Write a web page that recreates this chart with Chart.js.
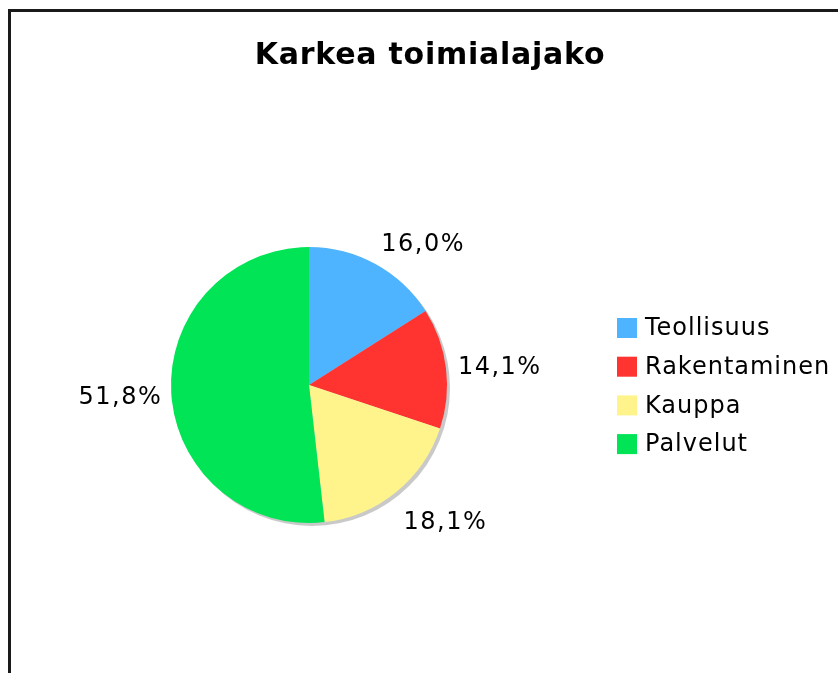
<!DOCTYPE html>
<html>
<head>
<meta charset="utf-8">
<script src="https://cdn.jsdelivr.net/npm/chart.js@4/dist/chart.umd.min.js"></script>
<style>
  html, body { margin: 0; padding: 0; background: #fff; overflow: hidden; }
  #wrap { width: 838px; height: 673px; position: relative; }
</style>
</head>
<body>
<div id="wrap"><canvas id="pieChart" width="838" height="673"></canvas></div>
<script>
const title = 'Karkea toimialajako';
const categories = ['Teollisuus', 'Rakentaminen', 'Kauppa', 'Palvelut'];
const shares = [16.0, 14.1, 18.1, 51.8];
const colors = ['#4fb4ff', '#ff3330', '#fff48c', '#00e455'];

const FONT = "'DejaVu Sans', Verdana, sans-serif";

function fmt(v) {
    return v.toFixed(1).replace('.', ',') + '%';
}

// frame, title, shadow, labels and legend
const decorations = {
    id: 'decorations',
    beforeDraw(chart) {
        const ctx = chart.ctx;
        ctx.save();
        ctx.fillStyle = '#fff';
        ctx.fillRect(0, 0, chart.width, chart.height);
        ctx.strokeStyle = '#1a1a1a';
        ctx.lineWidth = 3;
        ctx.strokeRect(9.5, 10.5, chart.width + 20, chart.height + 20);

        ctx.fillStyle = '#000';
        ctx.font = 'bold 30px ' + FONT;
        ctx.letterSpacing = '0.75px';
        ctx.textAlign = 'center';
        ctx.textBaseline = 'middle';
        ctx.fillText(title, 430, 56);
        ctx.restore();
    },
    beforeDatasetsDraw(chart) {
        const arc = chart.getDatasetMeta(0).data[0];
        if (!arc) return;
        const ctx = chart.ctx;
        ctx.save();
        ctx.fillStyle = '#c9c9c9';
        ctx.beginPath();
        ctx.arc(arc.x + 3, arc.y + 3, arc.outerRadius, 0, Math.PI * 2);
        ctx.fill();
        ctx.restore();
    },
    afterDatasetsDraw(chart) {
        const ctx = chart.ctx;
        const meta = chart.getDatasetMeta(0);
        ctx.save();
        ctx.fillStyle = '#000';
        ctx.font = '24px ' + FONT;
        ctx.letterSpacing = '1.5px';
        ctx.textBaseline = 'middle';
        meta.data.forEach((arc, i) => {
            const mid = (arc.startAngle + arc.endAngle) / 2;
            const cx = Math.cos(mid), cy = Math.sin(mid);
            const r = arc.outerRadius + 12;
            const x = arc.x + cx * r + (cx >= 0 ? 0 : 3);
            const y = arc.y + cy * r + (cy > 0 ? cy * 23 : cy * 13) + 3;
            ctx.textAlign = cx >= 0 ? 'left' : 'right';
            ctx.fillText(fmt(shares[i]), x, y);
        });

        // legend
        ctx.letterSpacing = '1px';
        ctx.textAlign = 'left';
        categories.forEach((c, i) => {
            const yc = 328 + i * 38.7;
            ctx.fillStyle = colors[i];
            ctx.fillRect(617, yc - 10, 20, 20);
            ctx.fillStyle = '#000';
            ctx.fillText(c, 645, yc + 1);
        });
        ctx.restore();
    }
};

new Chart(document.getElementById('pieChart'), {
    type: 'pie',
    data: {
        labels: categories,
        datasets: [{
            data: shares,
            backgroundColor: colors,
            borderWidth: 0
        }]
    },
    options: {
        responsive: false,
        animation: false,
        layout: { padding: { left: 171, right: 391, top: 247, bottom: 150 } },
        plugins: {
            legend: { display: false },
            tooltip: { enabled: false },
            title: { display: false }
        }
    },
    plugins: [decorations]
});
</script>
</body>
</html>
